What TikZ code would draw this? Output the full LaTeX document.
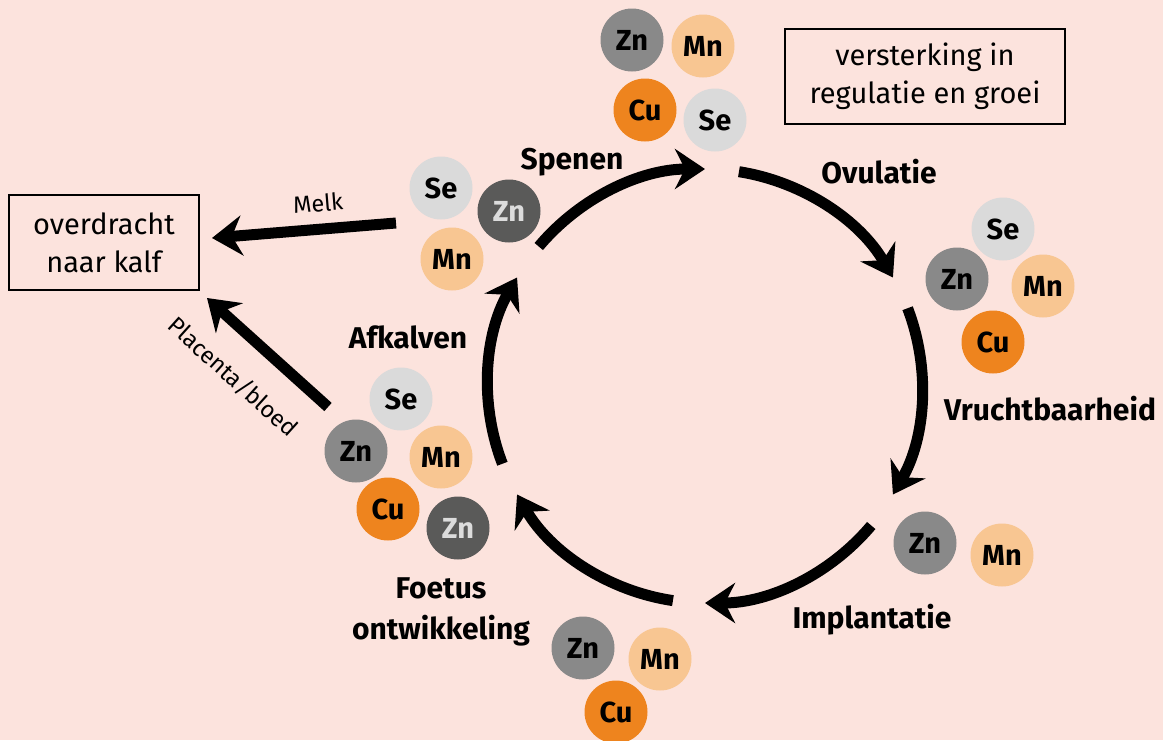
\documentclass[tikz,border=0pt]{standalone}
\usepackage{fontspec}
\setmainfont{Fira Sans}
\usetikzlibrary{arrows.meta,calc}
\definecolor{bgc}{HTML}{FCE3DD}
\definecolor{zngray}{HTML}{898989}
\definecolor{zndark}{HTML}{5A5A59}
\definecolor{zntext}{HTML}{DCDCDC}
\definecolor{mnc}{HTML}{F8C692}
\definecolor{cuc}{HTML}{EE841E}
\definecolor{sec}{HTML}{DADADA}
\begin{document}
\begin{tikzpicture}[x=1pt,y=1pt,
  el/.style={circle,minimum size=63pt,inner sep=0pt,font=\fontsize{29}{32}\selectfont\bfseries},
  zn/.style={el,fill=zngray},
  znd/.style={el,fill=zndark,text=zntext},
  mn/.style={el,fill=mnc},
  cu/.style={el,fill=cuc},
  se/.style={el,fill=sec},
  stage/.style={font=\fontsize{30}{34}\selectfont\bfseries,inner sep=0pt,anchor=base},
  notebox/.style={draw=black,line width=1.8pt,align=center,inner sep=0pt,font=\fontsize{29}{38}\selectfont},
  small/.style={font=\fontsize{23.5}{28}\selectfont,inner sep=0pt},
  fat/.style={line width=11pt,-{Stealth[length=30pt,width=40pt,inset=10pt]}},
]
\fill[bgc] (0,0) rectangle (1163,-740);
\useasboundingbox (0,0) rectangle (1163,-740);

% cycle arrows
\coordinate (c) at (705,-386);
\def\R{217}
\foreach \s/\e in {81/30, 21/-30, -40/-90, -98.5/-150, -159/-210, 140/90}{
  \draw[fat] ($(c)+(\s:\R)$) arc[start angle=\s, end angle=\e, radius=\R];
}

% top group
\node[zn] (tzn) at (632,-40) {Zn};
\node[mn] (tmn) at (703,-46) {Mn};
\node[cu] (tcu) at (645,-110) {Cu};
\node[se] (tse) at (715,-120) {Se};

% right group
\node[se] (rse) at (1003,-229) {Se};
\node[zn] (rzn) at (957,-279) {Zn};
\node[mn] (rmn) at (1043,-286) {Mn};
\node[cu] (rcu) at (993,-342) {Cu};

% bottom-right group
\node[zn] (brzn) at (925,-543) {Zn};
\node[mn] (brmn) at (1002,-555) {Mn};

% bottom group
\node[zn] (bzn) at (583,-648) {Zn};
\node[mn] (bmn) at (660,-659) {Mn};
\node[cu] (bcu) at (616,-712) {Cu};

% left group
\node[se] (lse) at (401,-399) {Se};
\node[zn] (lzn) at (356,-451) {Zn};
\node[mn] (lmn) at (441,-457) {Mn};
\node[cu] (lcu) at (388,-509) {Cu};
\node[znd] (lznd) at (458,-528) {Zn};

% upper-left group
\node[se] (ulse) at (441,-188) {Se};
\node[znd] (ulzn) at (509,-211) {Zn};
\node[mn] (ulmn) at (452,-259) {Mn};

% stage labels
\node[stage] (spenen) at (572,-169) {Spenen};
\node[stage] (ovul) at (879,-183) {Ovulatie};
\node[stage] (vrucht) at (1050,-420) {Vruchtbaarheid};
\node[stage] (impl) at (872,-628) {Implantatie};
\node[stage] (afk) at (408,-348) {Afkalven};
\node[stage] (foet1) at (441,-598) {Foetus};
\node[stage] (foet2) at (441,-639) {ontwikkeling};

% boxes
\node[notebox,minimum width=280pt,minimum height=95pt] (verst) at (925,-76.5) {versterking in\\regulatie en groei};
\node[notebox,minimum width=190pt,minimum height=95pt] (kalf) at (104,-242.5) {overdracht\\naar kalf};

% transfer arrows
\coordinate (melk0) at (396,-223);
\coordinate (melk1) at (212,-238);
\draw[fat] (melk0) -- (melk1);
\node[small,rotate=4.7] (melk) at (318,-203) {Melk};
\coordinate (plac0) at (328,-407);
\coordinate (plac1) at (207,-298);
\draw[fat] (plac0) -- (plac1);
\node[small,rotate=-42] (plac) at (233,-377) {Placenta/bloed};
\end{tikzpicture}
\end{document}
